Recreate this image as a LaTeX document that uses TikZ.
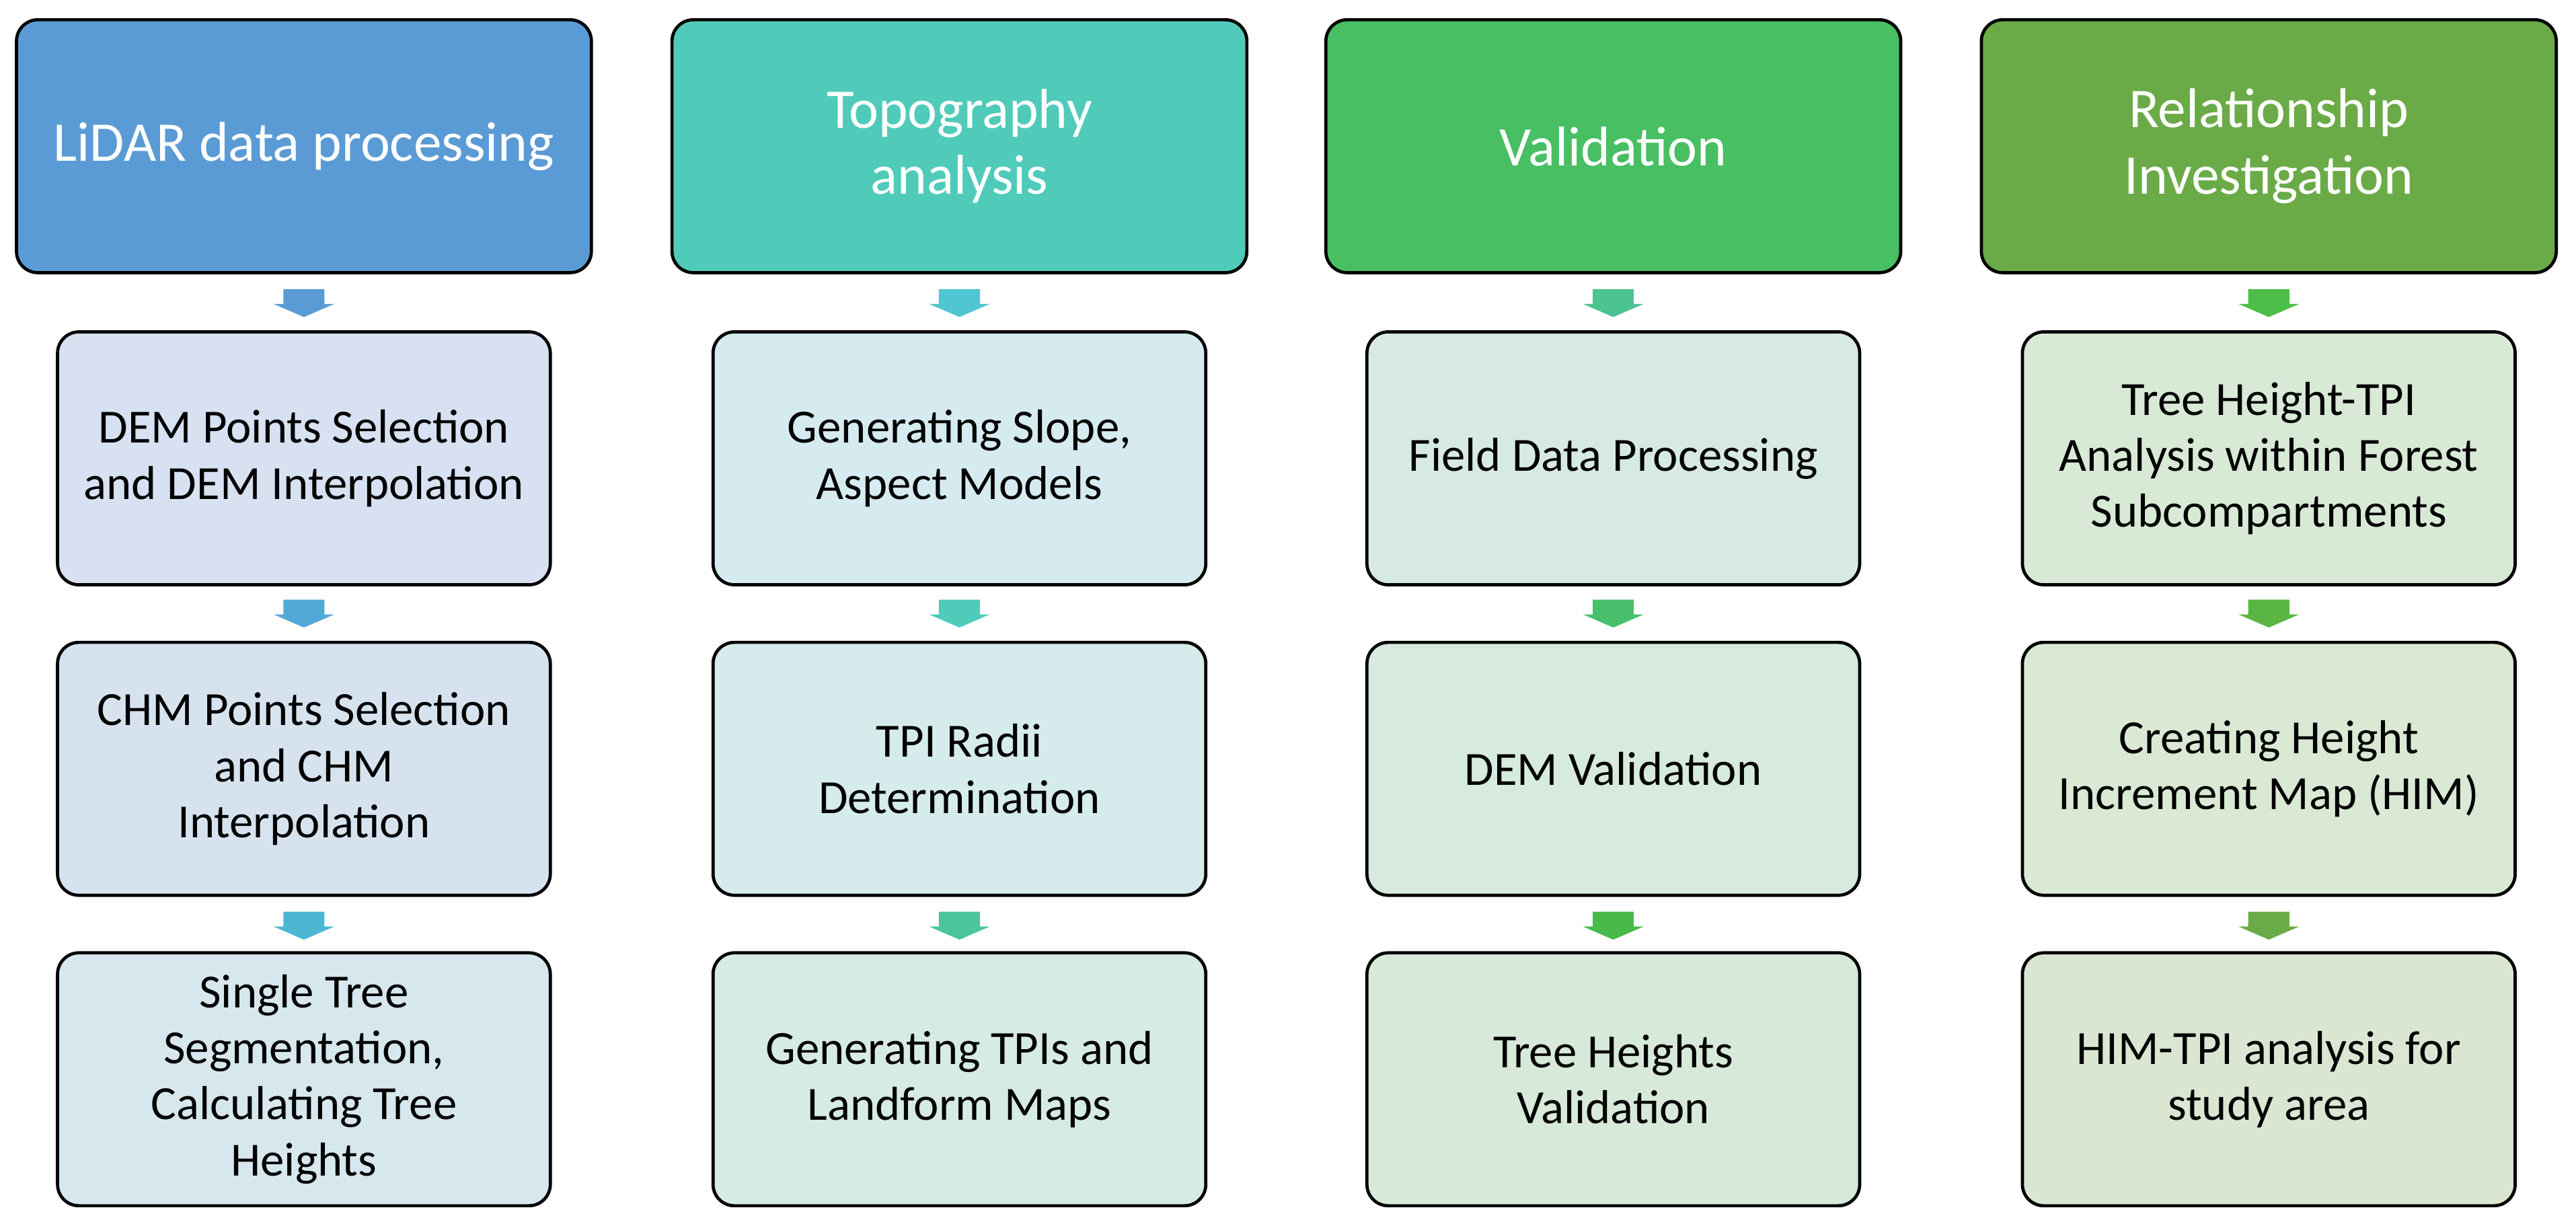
\documentclass[tikz,border=0pt]{standalone}
\usepackage{fontspec}
\setmainfont{Carlito}
\begin{document}
\begin{tikzpicture}[x=0.02cm,y=-0.02cm,
 hdr/.style={draw=black,line width=1.1pt,rounded corners=0.26cm,minimum width=7cm,minimum height=3.08cm,text=white,font=\fontsize{19.4}{23}\selectfont,align=center,inner sep=0pt},
 sub/.style={draw=black,line width=1.1pt,rounded corners=0.26cm,minimum width=6cm,minimum height=3.08cm,text=black,font=\fontsize{16.5}{19.4}\selectfont,align=center,inner sep=0pt}]
\useasboundingbox (0,0) rectangle (1568,745);
\definecolor{h1}{HTML}{5B9BD5}\definecolor{h2}{HTML}{50CBB9}\definecolor{h3}{HTML}{48BF63}\definecolor{h4}{HTML}{6AAB47}
\definecolor{s11}{HTML}{D7E1F1}\definecolor{s12}{HTML}{D6E3EF}\definecolor{s13}{HTML}{D6E8EE}
\definecolor{s21}{HTML}{D6EBEF}\definecolor{s22}{HTML}{D6EBEC}\definecolor{s23}{HTML}{D6EAE6}
\definecolor{s31}{HTML}{D6EAE2}\definecolor{s32}{HTML}{D6EADD}\definecolor{s33}{HTML}{D7E9D8}
\definecolor{s41}{HTML}{D8EAD6}\definecolor{s42}{HTML}{D9E9D4}\definecolor{s43}{HTML}{DAE6D2}
\definecolor{a11}{HTML}{5B9BD5}\definecolor{a12}{HTML}{52A9D5}\definecolor{a13}{HTML}{4DB7D3}
\definecolor{a21}{HTML}{4FC6D1}\definecolor{a22}{HTML}{50CBB9}\definecolor{a23}{HTML}{4CC59E}
\definecolor{a31}{HTML}{4EC392}\definecolor{a32}{HTML}{48BF6A}\definecolor{a33}{HTML}{47BA4B}
\definecolor{a41}{HTML}{4DBE48}\definecolor{a42}{HTML}{5BB543}\definecolor{a43}{HTML}{6AAB47}
\newcommand{\chev}[3]{\fill[#3] (#1-12.5,#2-17) -- (#1+12.5,#2-17) -- (#1+12.5,#2-8) -- (#1+18.5,#2-8) -- (#1,#2) -- (#1-18.5,#2-8) -- (#1-12.5,#2-8) -- cycle;}
\foreach \c/\x/\ha/\hb in {1/185/h1/LiDAR data processing,2/584/h2/{Topography\\analysis},3/982/h3/Validation,4/1381/h4/{Relationship\\Investigation}}{
 \node[hdr,fill=\ha] (h\c) at (\x,89) {\hb};
}
\node[sub,fill=s11] (b11) at (185,279) {DEM Points Selection\\and DEM Interpolation};
\node[sub,fill=s12] (b12) at (185,468) {CHM Points Selection\\and CHM\\Interpolation};
\node[sub,fill=s13] (b13) at (185,657) {Single Tree\\Segmentation,\\Calculating Tree\\Heights};
\node[sub,fill=s21] (b21) at (584,279) {Generating Slope,\\Aspect Models};
\node[sub,fill=s22] (b22) at (584,468) {TPI Radii\\Determination};
\node[sub,fill=s23] (b23) at (584,657) {Generating TPIs and\\Landform Maps};
\node[sub,fill=s31] (b31) at (982,279) {Field Data Processing};
\node[sub,fill=s32] (b32) at (982,468) {DEM Validation};
\node[sub,fill=s33] (b33) at (982,657) {Tree Heights\\Validation};
\node[sub,fill=s41] (b41) at (1381,279) {Tree Height-TPI\\Analysis within Forest\\Subcompartments};
\node[sub,fill=s42] (b42) at (1381,468) {Creating Height\\Increment Map (HIM)};
\node[sub,fill=s43] (b43) at (1381,657) {HIM-TPI analysis for\\study area};
\foreach \c/\x in {1/185,2/584,3/982,4/1381}{
 \chev{\x}{193}{a\c1}
 \chev{\x}{382}{a\c2}
 \chev{\x}{572}{a\c3}
}
\end{tikzpicture}
\end{document}
